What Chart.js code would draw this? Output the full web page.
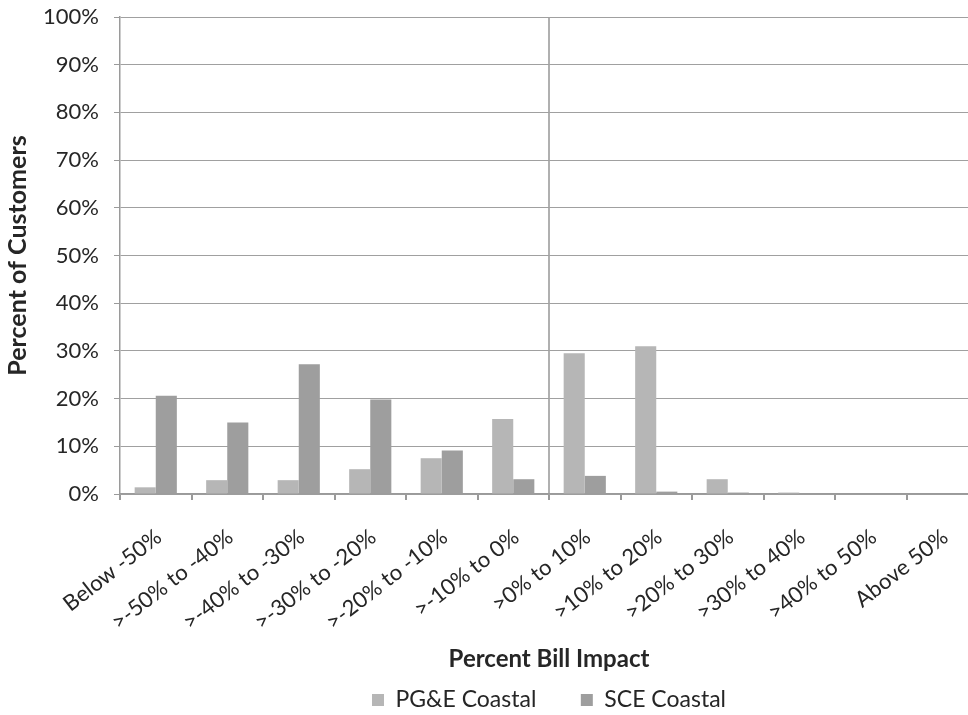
<!DOCTYPE html>
<html>
<head>
<meta charset="utf-8">
<title>Percent Bill Impact</title>
<script src="https://cdn.jsdelivr.net/npm/chart.js@4.4.1/dist/chart.umd.min.js"></script>
<style>
  html, body { margin: 0; padding: 0; background: #ffffff; overflow: hidden; }
  #wrap { width: 990px; height: 715px; position: relative; }
</style>
</head>
<body>
<div id="wrap"><canvas id="chart"></canvas></div>
<script>
// Bill impact bins
const categories = [
  'Below -50%', '>-50% to -40%', '>-40% to -30%', '>-30% to -20%',
  '>-20% to -10%', '>-10% to 0%', '>0% to 10%', '>10% to 20%',
  '>20% to 30%', '>30% to 40%', '>40% to 50%', 'Above 50%'
];

// Share of customers in each bin (%)
const pgeCoastal = [1.4, 2.9, 2.9, 5.2, 7.5, 15.7, 29.5, 31.0, 3.1, 0.3, 0.1, 0.1];
const sceCoastal = [20.6, 15.0, 27.2, 19.8, 9.1, 3.1, 3.8, 0.5, 0.3, 0.2, 0.1, 0.1];

const seriesNames = ['PG&E Coastal', 'SCE Coastal'];
const yTicks = [0, 10, 20, 30, 40, 50, 60, 70, 80, 90, 100];

const FONT = 'Lato, "Open Sans", "Liberation Sans", sans-serif';
const TEXT = '#262626';
const ZERO_INDEX = categories.indexOf('>0% to 10%');

new Chart(document.getElementById('chart'), {
  type: 'bar',
  data: {
    labels: categories,
    datasets: [
      { label: seriesNames[0], data: pgeCoastal, backgroundColor: '#b6b6b6' },
      { label: seriesNames[1], data: sceCoastal, backgroundColor: '#9e9e9e' }
    ]
  },
  options: {
    responsive: true,
    maintainAspectRatio: false,
    animation: false,
    layout: { padding: { top: 17, right: 12, bottom: -6.5, left: 0 } },
    datasets: { bar: { categoryPercentage: 0.59, barPercentage: 1.0 } },
    scales: {
      x: {
        afterFit: (s) => { s.height = 184.5; },
        border: { display: true, color: '#9a9a9a', width: 1.5 },
        grid: {
          offset: true,
          drawTicks: true,
          tickLength: 6,
          tickColor: '#9a9a9a',
          lineWidth: 2,
          color: (ctx) => ctx.index === ZERO_INDEX ? '#b0b0b0' : 'rgba(0,0,0,0)'
        },
        ticks: {
          autoSkip: false,
          minRotation: 38,
          maxRotation: 38,
          padding: 24,
          labelOffset: 3,
          color: TEXT,
          font: { family: FONT, size: 22 }
        },
        title: {
          display: true,
          text: 'Percent Bill Impact',
          color: TEXT,
          font: { family: FONT, size: 24, weight: 'bold' },
          padding: { top: 0, bottom: 5 }
        }
      },
      y: {
        min: 0,
        max: 100,
        afterFit: (s) => { s.width = 120; s.paddingTop = 12; },
        afterBuildTicks: (s) => { s.ticks = yTicks.map(v => ({ value: v })); },
        border: { display: true, color: '#9a9a9a', width: 1.5 },
        grid: {
          color: '#a0a0a0',
          lineWidth: 1,
          tickLength: 6,
          tickColor: '#9a9a9a',
          tickBorderDash: [],
          borderDash: [2, 2]
        },
        ticks: {
          padding: 15,
          color: TEXT,
          font: { family: FONT, size: 22 },
          callback: (v) => v + '%'
        },
        title: {
          display: true,
          text: 'Percent of Customers',
          color: TEXT,
          font: { family: FONT, size: 25, weight: 'bold' },
          padding: { top: 3, bottom: 0 }
        }
      }
    },
    plugins: {
      tooltip: { enabled: false },
      legend: {
        position: 'bottom',
        fullSize: false,
        align: 'center',
        labels: {
          boxWidth: 12,
          boxHeight: 12,
          padding: 10,
          color: TEXT,
          font: { family: FONT, size: 23 },
          generateLabels: (chart) => {
            const items = Chart.defaults.plugins.legend.labels.generateLabels(chart);
            items.forEach((it, i) => {
              it.lineWidth = 0;
              if (i < items.length - 1) it.text = it.text + '\u2003\u2003';
            });
            return items;
          }
        }
      }
    }
  }
});
</script>
</body>
</html>
